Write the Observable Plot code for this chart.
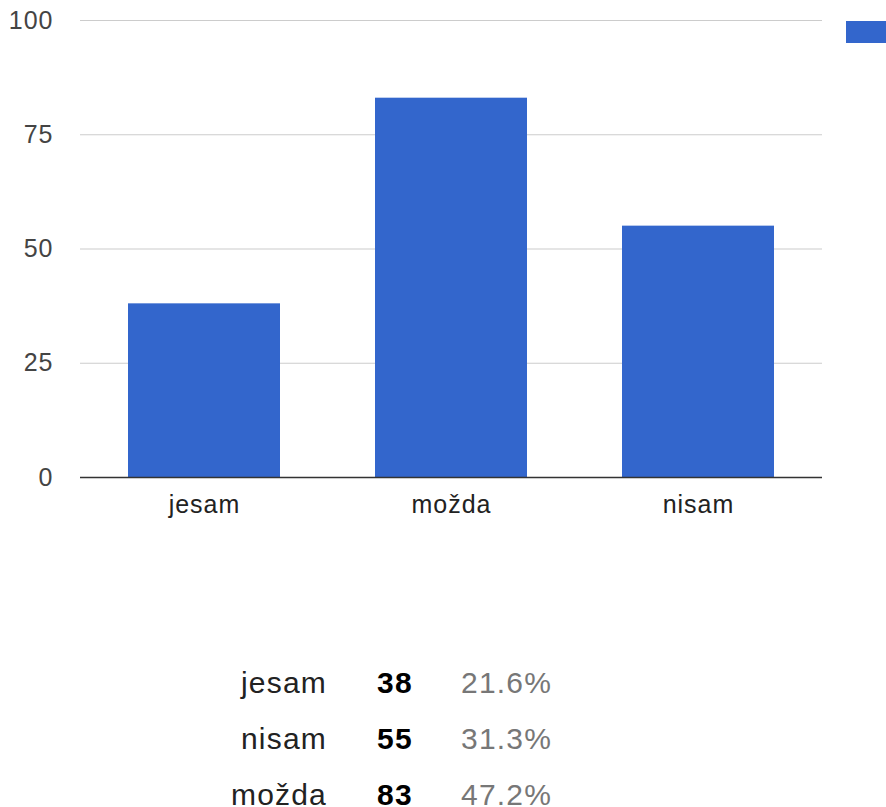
<!DOCTYPE html>
<html><head><meta charset="utf-8">
<script src="https://cdn.jsdelivr.net/npm/d3@7"></script>
<script src="https://cdn.jsdelivr.net/npm/@observablehq/plot@0.6"></script>
<style>
body{margin:0;background:#fff;font-family:Arial,"Liberation Sans",sans-serif;}
#wrap{position:relative;width:886px;height:807px;overflow:hidden;}
#chart{position:absolute;left:0;top:0;}
#chart svg text{letter-spacing:1px;}
#legend{position:absolute;left:846px;top:21px;width:40px;height:22px;background:#3366cc;}
.row{position:absolute;left:0;height:56px;line-height:56px;font-size:30px;white-space:nowrap;letter-spacing:1.2px;}
.lab{position:absolute;left:0;width:327px;text-align:right;color:#222;}
.cnt{position:absolute;left:377px;font-weight:bold;color:#000;}
.pct{position:absolute;left:461px;color:#777;}
</style>
</head><body>
<div id="wrap"><div id="chart"></div><div id="legend"></div><div id="tbl"></div></div>
<script>
const categories = ["jesam", "možda", "nisam"];
const counts = [38, 83, 55];
const yTicks = [0, 25, 50, 75, 100];
const tableOrder = ["jesam", "nisam", "možda"];
const tableCounts = [38, 55, 83];
const tablePercents = ["21.6%", "31.3%", "47.2%"];

const data = categories.map((c, i) => ({cat: c, value: counts[i]}));

const chart = Plot.plot({
  width: 886, height: 530,
  marginTop: 20, marginBottom: 53, marginLeft: 80, marginRight: 64,
  style: {fontSize: "25px", fontFamily: "Arial, 'Liberation Sans', sans-serif", background: "transparent"},
  x: {domain: categories, paddingInner: 0.385, paddingOuter: 0.1925, label: null},
  y: {domain: [0, 100], label: null},
  marks: [
    Plot.gridY(yTicks, {stroke: "#cccccc", strokeOpacity: 1, strokeWidth: 1.2}),
    Plot.barY(data, {x: "cat", y: "value", fill: "#3366cc"}),
    Plot.ruleY([0], {stroke: "#333", strokeWidth: 1.5}),
    Plot.axisY(yTicks, {tickSize: 0, tickPadding: 27, fill: "#444", label: null}),
    Plot.axisX({tickSize: 0, tickPadding: 18, fill: "#222", label: null})
  ]
});
document.getElementById("chart").appendChild(chart);

const tbl = document.getElementById("tbl");
tableOrder.forEach((lab, i) => {
  const row = document.createElement("div");
  row.className = "row";
  row.style.top = (655 + i * 56) + "px";
  row.style.width = "886px";
  row.innerHTML = `<span class="lab">${lab}</span><span class="cnt">${tableCounts[i]}</span><span class="pct">${tablePercents[i]}</span>`;
  tbl.appendChild(row);
});
</script>
</body></html>
